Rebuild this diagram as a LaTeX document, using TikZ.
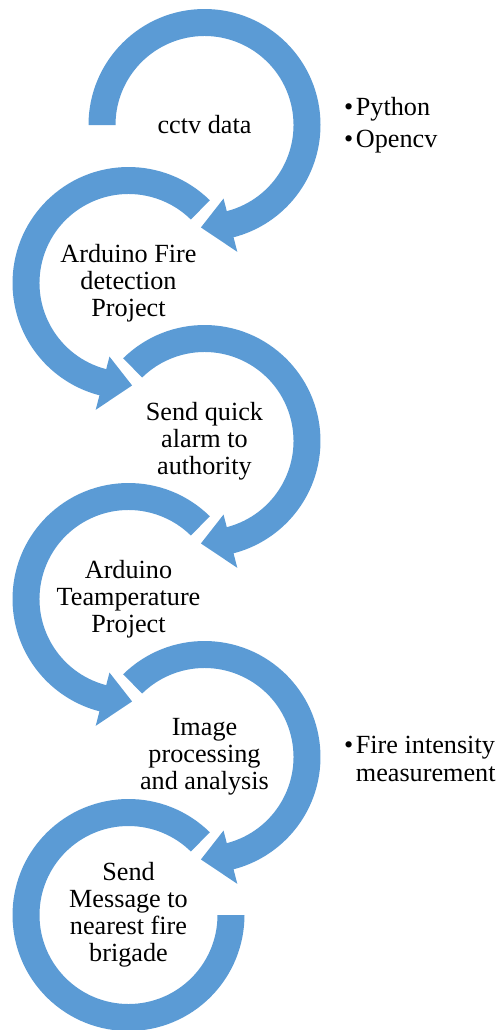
\documentclass[tikz,border=0pt]{standalone}
\usepackage{fontspec}
\setmainfont{Liberation Serif}
\usepackage{xcolor}
\definecolor{ringblue}{RGB}{91,155,213}

\begin{document}
\begin{tikzpicture}[x=1bp, y=1bp,
    ring/.style={fill=ringblue, draw=none},
    stage/.style={align=center, font=\fontsize{26.3}{27}\selectfont},
    notes/.style={anchor=base west, inner sep=0pt, font=\fontsize{26.3}{29}\selectfont}]
    \useasboundingbox (0,0) rectangle (499,-1030);

    % Ring centres
    \coordinate (c1) at (204.5,-125);
    \coordinate (c2) at (128.5,-283);
    \coordinate (c3) at (204.5,-441);
    \coordinate (c4) at (128.5,-599);
    \coordinate (c5) at (204.5,-757);
    \coordinate (c6) at (128.5,-915);

    % Ring arrows
    \fill[ring, shift={(c1)}] (180:116) arc[start angle=180, end angle=-75.5, radius=116]
        -- (-75.5:131) -- (-92:102.5) -- (-75.5:76) -- (-75.5:89)
        arc[start angle=-75.5, end angle=180, radius=89] -- cycle;
    \fill[ring, shift={(c2)}] (45.5:116) arc[start angle=45.5, end angle=255.5, radius=116]
        -- (255.5:131) -- (272:102.5) -- (255.5:76) -- (255.5:89)
        arc[start angle=255.5, end angle=45.5, radius=89] -- cycle;
    \fill[ring, shift={(c3)}] (134.5:116) arc[start angle=134.5, end angle=-75.5, radius=116]
        -- (-75.5:131) -- (-92:102.5) -- (-75.5:76) -- (-75.5:89)
        arc[start angle=-75.5, end angle=134.5, radius=89] -- cycle;
    \fill[ring, shift={(c4)}] (45.5:116) arc[start angle=45.5, end angle=255.5, radius=116]
        -- (255.5:131) -- (272:102.5) -- (255.5:76) -- (255.5:89)
        arc[start angle=255.5, end angle=45.5, radius=89] -- cycle;
    \fill[ring, shift={(c5)}] (134.5:116) arc[start angle=134.5, end angle=-75.5, radius=116]
        -- (-75.5:131) -- (-92:102.5) -- (-75.5:76) -- (-75.5:89)
        arc[start angle=-75.5, end angle=134.5, radius=89] -- cycle;
    \fill[ring, shift={(c6)}] (45.5:116) arc[start angle=45.5, end angle=360, radius=116]
        -- (0:89) arc[start angle=360, end angle=45.5, radius=89] -- cycle;

    % Stage texts
    \node[stage] (cctv) at (c1) {cctv data};
    \node[stage] (firedet) at (c2) {Arduino Fire\\detection\\Project};
    \node[stage] (alarm) at (c3) {Send quick\\alarm to\\authority};
    \node[stage] (temp) at (c4) {Arduino\\Teamperature\\Project};
    \node[stage] (imgproc) at (c5) {Image\\processing\\and analysis};
    \node[stage] (brigade) at (c6) {Send\\Message to\\nearest fire\\brigade};

    % Side notes
    \node[notes] (tools) at (344,-115) {\begin{tabular}[t]{@{}l@{\hspace{2.5bp}}l@{}}
        \textbullet & Python\\[4bp]
        \textbullet & Opencv
    \end{tabular}};
    \node[notes] (intensity) at (344,-753) {\begin{tabular}[t]{@{}l@{\hspace{2.5bp}}l@{}}
        \textbullet & Fire intensity\\
        & measurement
    \end{tabular}};
\end{tikzpicture}
\end{document}
